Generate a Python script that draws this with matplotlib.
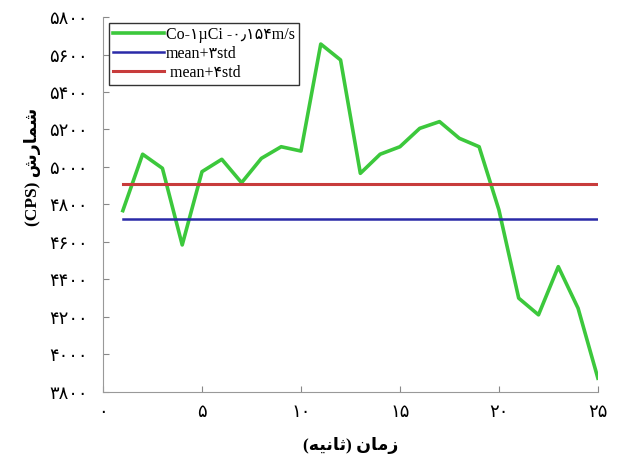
import matplotlib
matplotlib.use('Agg')
import matplotlib.pyplot as plt

# data
t = list(range(1, 26))
counts = [4767, 5068, 4993, 4584, 4975, 5041, 4916, 5046, 5108, 5085,
          5656, 5571, 4966, 5068, 5108, 5206, 5242, 5153, 5108, 4771,
          4300, 4211, 4468, 4246, 3873]
mean_3std = 4721
mean_4std = 4909

fa = '۰۱۲۳۴۵۶۷۸۹'
def fa_num(n):
    return ''.join(fa[int(c)] for c in str(n))

yticks = list(range(3800, 5801, 200))
xticks = [0, 5, 10, 15, 20, 25]

labels = ['Co-۱µCi -۰٫۱۵۴m/s', 'mean+۳std', ' mean+۴std']
# Persian text pre-shaped in visual order (matplotlib has no bidi shaping)
xlabel = '(' + '\uFEEA\uFEF4\uFEE7\uFE8E\uFE9B' + ') ' + '\uFEE5\uFE8E\uFEE3\uFEAF'
ylabel = '(CPS) ' + '\uFEB5\uFEAD\uFE8E\uFEE4\uFEB7'

serif = ['Liberation Serif', 'DejaVu Sans']

fig = plt.figure(figsize=(6.17, 4.61), dpi=100)
ax = fig.add_axes([0.167, 0.150, 0.802, 0.813])

ax.plot(t, counts, color='#3cc83c', lw=2.6, label=labels[0])
ax.plot([t[0], t[-1]], [mean_3std, mean_3std], color='#2a2aa8', lw=1.8, label=labels[1])
ax.plot([t[0], t[-1]], [mean_4std, mean_4std], color='#c83c3c', lw=2.2, label=labels[2])

ax.set_xlim(0, 25)
ax.set_ylim(3800, 5800)
ax.set_xticks(xticks)
ax.set_xticklabels([fa_num(v) for v in xticks], fontsize=13, family='DejaVu Sans')
ax.set_yticks(yticks)
ax.set_yticklabels([fa_num(v) for v in yticks], fontsize=13, family='DejaVu Sans')
ax.tick_params(direction='in', length=4, color='#888888')
ax.tick_params(axis='y', pad=11)
ax.tick_params(axis='x', pad=8)

for s in ['top', 'right']:
    ax.spines[s].set_visible(False)
for s in ['left', 'bottom']:
    ax.spines[s].set_color('#999999')

ax.set_xlabel(xlabel, fontsize=12.5, fontweight='bold', family=serif)
ax.set_ylabel(ylabel, fontsize=12.5, fontweight='bold', family=serif)
ax.xaxis.set_label_coords(0.5, -0.12)
ax.yaxis.set_label_coords(-0.125, 0.6)

leg = ax.legend(loc='upper left', bbox_to_anchor=(0.012, 0.985), prop={'family': serif, 'size': 11.5},
                fancybox=False, framealpha=1, edgecolor='#333333', handlelength=3.2,
                handletextpad=0.1, labelspacing=0.2, borderpad=0.25, borderaxespad=0)
leg.get_frame().set_linewidth(1.0)

fig.savefig('out.png', dpi=100)
